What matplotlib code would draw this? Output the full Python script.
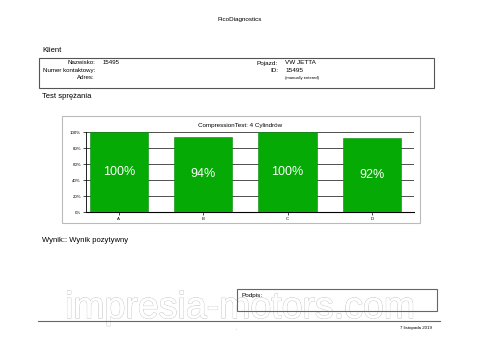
import matplotlib.pyplot as plt
import matplotlib.patheffects as pe
import numpy as np

plt.rcParams['font.family'] = ['Liberation Sans', 'DejaVu Sans']

# Data
cylinders = ['A', 'B', 'C', 'D']
compression = [100, 94, 100, 92]
y_ticks = [0, 20, 40, 60, 80, 100]
y_tick_labels = ['0%', '20%', '40%', '60%', '80%', '100%']

fig = plt.figure(figsize=(4.8, 3.6), dpi=100)

# page layer in pixel coordinates
page = fig.add_axes([0, 0, 1, 1])
page.set_xlim(0, 480)
page.set_ylim(360, 0)
page.axis('off')

page.text(240, 19, 'PicoDiagnostics', fontsize=4.5, ha='center', va='center')

page.text(42, 50, 'Klient', fontsize=5.5, va='center')
page.add_patch(plt.Rectangle((39, 58), 395, 30, fill=False, ec='#555555', lw=0.8))
for i, (lab, val) in enumerate([('Nazwisko:', '15495'), ('Numer kontaktowy:', ''), ('Adres:', '')]):
    page.text(95, 63 + i * 7.3, lab, fontsize=4.4, ha='right', va='center')
    page.text(103, 63 + i * 7.3, val, fontsize=4.4, va='center')
for i, (lab, val) in enumerate([('Pojazd:', 'VW JETTA'), ('ID:', '15495')]):
    page.text(278, 63 + i * 7.3, lab, fontsize=4.6, ha='right', va='center')
    page.text(285, 63 + i * 7.3, val, fontsize=4.6, va='center')
page.text(285, 77.5, '(manually entered)', fontsize=3, va='center')

page.text(42, 97, 'Test sprężania', fontsize=5.5, va='center')

# chart frame
page.add_patch(plt.Rectangle((62, 116), 358, 107, fill=False, ec='#bbbbbb', lw=0.8))
page.text(240, 125, 'CompressionTest: 4 Cylindrów', fontsize=4.5, ha='center', va='center')

page.text(42, 241, 'Wynik:: Wynik pozytywny', fontsize=5.5, va='center')

# watermark (outline only, under the page content)
wm = page.text(240, 318, 'impresia-motors.com', fontsize=27, ha='center', va='baseline',
               color='white', zorder=0.5)
wm.set_path_effects([pe.withStroke(linewidth=0.8, foreground='#c4c4c4'), pe.Normal()])

page.add_patch(plt.Rectangle((237, 289), 200, 22, fill=False, ec='#666666', lw=0.8, zorder=2))
page.text(242, 296, 'Podpis:', fontsize=4.6, va='center', zorder=3)
page.plot([38, 440], [320.5, 320.5], color='#666666', lw=0.8, zorder=2)
page.text(236, 328, '.', fontsize=4, ha='center', va='center', color='#888888')
page.text(432, 328, '7 listopada 2019', fontsize=3.2, ha='right', va='center')

# bar chart
ax = fig.add_axes([86 / 480, (360 - 212) / 360, 328 / 480, 80 / 360])
x = np.arange(len(cylinders))
bars = ax.bar(x, compression, width=0.69, color='#05aa05', edgecolor='#078a07',
              linewidth=0.4, zorder=3)
for xi, v in zip(x, compression):
    ax.text(xi, v / 2, f'{v}%', color='white', fontsize=9, ha='center', va='center', zorder=4)
ax.set_xlim(-0.39, 3.5)
ax.set_ylim(0, 100)
ax.set_yticks(y_ticks, y_tick_labels)
ax.set_xticks(x, cylinders)
ax.tick_params(axis='both', labelsize=3.2, length=2.5, width=0.5, pad=1)
ax.grid(axis='y', color='#333333', lw=0.6, zorder=0)
for s in ['top', 'right']:
    ax.spines[s].set_visible(False)
ax.spines['left'].set_linewidth(0.6)
ax.spines['bottom'].set_linewidth(0.8)

fig.savefig('out.png', dpi=100)
